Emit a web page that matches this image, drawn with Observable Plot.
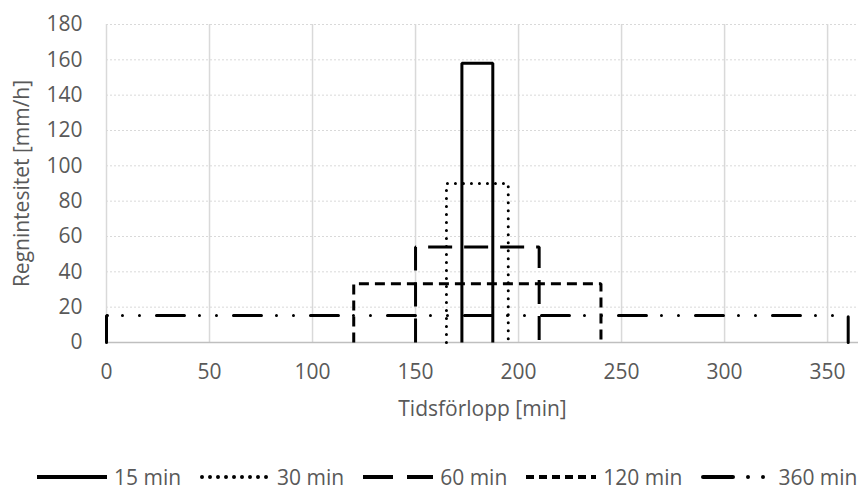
<!DOCTYPE html>
<html>
<head>
<meta charset="utf-8">
<script src="https://cdn.jsdelivr.net/npm/d3@7"></script>
<script src="https://cdn.jsdelivr.net/npm/@observablehq/plot@0.6"></script>
<style>
  html, body { margin: 0; padding: 0; background: #fff; }
  body { width: 860px; height: 490px; position: relative; overflow: hidden; font-family: "Open Sans", sans-serif; }
  #legend { position: absolute; left: 0; top: 465px; height: 24px; line-height: 24px; display: flex; align-items: center; font-size: 21px; color: #595959; white-space: nowrap; }
  .item { display: flex; align-items: center; height: 24px; }
  .item svg { display: block; }
</style>
</head>
<body>
<div id="chart"></div>
<div id="legend"></div>
<script>
// ---- data ----
const seriesNames = ["15 min", "30 min", "60 min", "120 min", "360 min"];
const startMin    = [172.5, 165, 150, 120, 0];      // block start [min]
const endMin      = [187.5, 195, 210, 240, 360];    // block end [min]
const intensity   = [158, 90, 54, 33.3, 15.3];      // rain intensity [mm/h]
const xTicks = [0, 50, 100, 150, 200, 250, 300, 350];
const yTicks = [0, 20, 40, 60, 80, 100, 120, 140, 160, 180];

// ---- styles ----
const dashes  = [null, "0,8", "24,12", "10,6", "28,15,0,17,0,17"];
const caps    = ["butt", "round", "butt", "butt", "round"];

const rows = [];
seriesNames.forEach((name, i) => {
  rows.push({series: name, t: startMin[i], v: 0});
  rows.push({series: name, t: startMin[i], v: intensity[i]});
  rows.push({series: name, t: endMin[i], v: intensity[i]});
  rows.push({series: name, t: endMin[i], v: 0});
});

const lineMarks = seriesNames.slice().reverse().map(name => {
  const i = seriesNames.indexOf(name);
  return Plot.line(rows.filter(d => d.series === name), {
    x: "t", y: "v", stroke: "#000", strokeWidth: 3,
    strokeDasharray: dashes[i] || undefined,
    strokeLinecap: caps[i], strokeLinejoin: "miter"
  });
});

const chart = Plot.plot({
  width: 860, height: 430,
  marginTop: 24, marginBottom: 88, marginLeft: 106, marginRight: 2,
  style: {fontFamily: "Open Sans, sans-serif", color: "#595959", background: "#fff"},
  x: {domain: [0, 365]},
  y: {domain: [0, 180]},
  marks: [
    Plot.gridY(yTicks, {stroke: "#d9d9d9", strokeOpacity: 1, strokeWidth: 1, strokeDasharray: "2,2"}),
    Plot.gridX(xTicks, {stroke: "#d9d9d9", strokeOpacity: 1, strokeWidth: 1.5}),
    Plot.ruleY([0], {stroke: "#bfbfbf", strokeWidth: 1.5}),
    Plot.axisY(yTicks, {tickSize: 0, tickPadding: 24, fontSize: 21, fill: "#595959",
      label: "Regnintesitet [mm/h]", labelAnchor: "center", labelOffset: 92, labelArrow: "none"}),
    Plot.axisX(xTicks, {tickSize: 0, tickPadding: 22, fontSize: 21, fill: "#595959",
      label: "Tidsförlopp [min]", labelAnchor: "center", labelOffset: 73, labelArrow: "none"}),
    ...lineMarks
  ]
});
document.getElementById("chart").appendChild(chart);

// ---- legend ----
const legend = document.getElementById("legend");
legend.style.paddingLeft = "37px";
seriesNames.forEach((name, i) => {
  const item = document.createElement("div");
  item.className = "item";
  item.style.marginRight = "19px";
  const ns = "http://www.w3.org/2000/svg";
  const svg = document.createElementNS(ns, "svg");
  svg.setAttribute("width", 70); svg.setAttribute("height", 12);
  const ln = document.createElementNS(ns, "line");
  ln.setAttribute("x1", caps[i] === "round" ? 2 : 0); ln.setAttribute("x2", caps[i] === "round" ? 68 : 70);
  ln.setAttribute("y1", 6); ln.setAttribute("y2", 6);
  ln.setAttribute("stroke", "#000"); ln.setAttribute("stroke-width", 4);
  ln.setAttribute("stroke-linecap", caps[i]);
  const legendDash = [null, "0,8", "30,14", "8,5", "30,15,0,15,0,15"][i];
  if (legendDash) ln.setAttribute("stroke-dasharray", legendDash);
  svg.appendChild(ln);
  const label = document.createElement("span");
  label.textContent = name;
  label.style.marginLeft = "7px";
  item.appendChild(svg); item.appendChild(label);
  legend.appendChild(item);
});
</script>
</body>
</html>
